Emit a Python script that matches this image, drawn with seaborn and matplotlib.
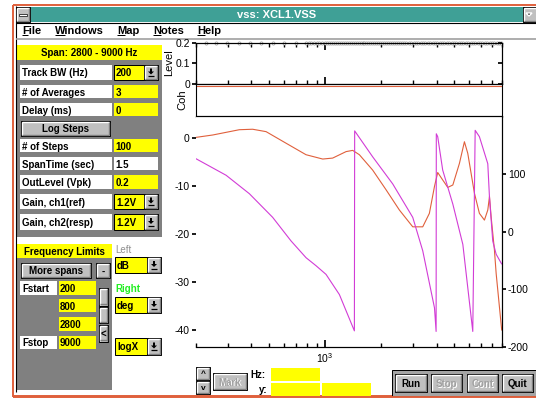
import matplotlib
matplotlib.use("Agg")
import matplotlib.pyplot as plt
from matplotlib.patches import Rectangle, Polygon
from matplotlib.ticker import NullFormatter
import seaborn as sns

# screen size in pixels
W, H = 536, 398

# magnitude (dB, left axis)
mag_freq = [200, 247, 344, 406, 480, 615, 789, 971, 1099, 1299, 1410, 1532, 1808, 2136,
            2520, 2976, 3370, 3660, 3900, 4060, 4320, 4600, 4900, 5320, 5660, 5900, 6410,
            6820, 7260, 7570, 7730, 7890, 8220, 8400, 9000]
mag_db = [0.1, 0.6, 1.7, 1.8, 1.3, -1.1, -3.5, -4.4, -4.2, -2.85, -2.6, -3.5, -6.7, -10.8,
          -15.0, -18.5, -18.5, -15.7, -10.1, -7.2, -8.75, -10.3, -9.8, -5.3, -0.8, -3.2, -11.5,
          -15.7, -17.1, -15.0, -12.2, -16.4, -23.3, -28.2, -40.0]

# phase (deg, right axis)
phase_freq = [200, 292, 390, 521, 655, 789, 894, 1012, 1195, 1440, 1445, 1808, 2320, 2976,
              3370, 3900, 3980, 3990, 4060, 4320, 4900, 5550, 6280, 6470, 6820, 7570, 7730,
              8050, 8400, 9000]
phase_deg = [127, 98, 66, 25, -16, -45, -59, -74, -109, -172, 175, 130, 83, 25,
             -33, -132, -173, 170, 165, 107, 48, -22, -173, 176, 165, 118, 60,
             -16, -39, -56]

# measurement points shown in the Level strip (all at 0.2 Vpk)
level_freq = [228, 258, 297, 344, 393, 451, 521, 603, 697,
              789, 816, 843, 872, 901, 932, 963, 996,
              1021, 1047, 1073, 1100, 1127, 1155, 1184, 1214, 1244, 1275, 1307, 1340, 1373,
              1408, 1443, 1479, 1516, 1554, 1593, 1633, 1673, 1715, 1758, 1802, 1847, 1893,
              1941, 1989, 2039, 2090, 2142, 2196, 2251, 2307, 2365, 2424, 2484, 2547, 2610, 2676,
              2750, 2833, 2917, 3005, 3095, 3188, 3283, 3382, 3483, 3588, 3695, 3806, 3920,
              4038, 4159, 4284, 4412, 4545, 4681, 4822, 4966, 5115, 5269, 5427, 5590, 5757,
              5930, 6108, 6291, 6480, 6674, 6874, 7081, 7293, 7512, 7737, 7970, 8209, 8455,
              8709, 8970]
level_val = [0.2] * len(level_freq)

coh_freq = [200, 9000]
coh_val = [0.99, 0.99]

# panel texts
menu_items = ["File", "Windows", "Map", "Notes", "Help"]
setup_rows = ["Track BW (Hz)", "# of Averages", "Delay (ms)"]
setup_vals = ["200", "3", "0"]
step_rows = ["# of Steps", "SpanTime (sec)", "OutLevel (Vpk)", "Gain, ch1(ref)", "Gain, ch2(resp)"]
step_vals = ["100", "1.5", "0.2", "1.2V", "1.2V"]
span_edges = ["200", "800", "2800", "9000"]

sns.set_theme(style="ticks", rc={"axes.edgecolor": "black", "axes.linewidth": 0.8,
                                 "xtick.color": "black", "ytick.color": "black",
                                 "text.color": "black", "axes.labelcolor": "black"})
plt.rcParams["font.family"] = ["Liberation Sans", "DejaVu Sans"]
plt.rcParams["axes.unicode_minus"] = False
plt.rcParams["mathtext.default"] = "regular"

YEL = "#ffff00"
GRAY = "#808080"
BTN = "#c0c0c0"
ORANGE = "#e0603c"
MAGENTA = "#d23cd6"

fig = plt.figure(figsize=(W / 100, H / 100), dpi=100)
bg = fig.add_axes([0, 0, 1, 1])
bg.set_xlim(0, W)
bg.set_ylim(H, 0)
bg.axis("off")


def box(x0, y0, x1, y1, fc, ec="none", lw=0.72, z=1):
    bg.add_patch(Rectangle((x0, y0), x1 - x0, y1 - y0, facecolor=fc, edgecolor=ec,
                           linewidth=lw, zorder=z))


def hline(x0, x1, y, c, lw=0.72, z=3):
    bg.plot([x0, x1], [y, y], color=c, lw=lw, zorder=z, solid_capstyle="butt")


def vline(x, y0, y1, c, lw=0.72, z=3):
    bg.plot([x, x], [y0, y1], color=c, lw=lw, zorder=z, solid_capstyle="butt")


def txt(x, y, s, size=7, color="black", weight="bold", ha="left", z=6):
    bg.text(x, y, s, fontsize=size, color=color, fontweight=weight, ha=ha,
            va="center_baseline", zorder=z)


def button(x0, y0, x1, y1, s="", enabled=True, size=7):
    box(x0, y0, x1, y1, BTN, "black", 0.72, 2)
    hline(x0 + 1, x1 - 1, y0 + 1.3, "white", 1.0, 3)
    vline(x0 + 1.3, y0 + 1, y1 - 1, "white", 1.0, 3)
    hline(x0 + 1, x1 - 1, y1 - 1.3, GRAY, 1.0, 3)
    vline(x1 - 1.3, y0 + 1, y1 - 1, GRAY, 1.0, 3)
    if s:
        cx, cy = (x0 + x1) / 2, (y0 + y1) / 2
        if enabled:
            txt(cx, cy, s, size=size, ha="center")
        else:
            txt(cx + 0.7, cy + 0.7, s, size=size, color="white", ha="center")
            txt(cx, cy, s, size=size, color="#a0a0a0", ha="center", z=7)


def dropdown(x0, y0, x1, y1, s):
    box(x0, y0, x1 - 14, y1, YEL, "black", 0.72, 2)
    button(x1 - 14, y0, x1, y1)
    cx, cy = x1 - 7, (y0 + y1) / 2
    bg.add_patch(Polygon([(cx - 1, cy - 4), (cx + 1, cy - 4), (cx + 1, cy - 1), (cx + 3, cy - 1),
                          (cx, cy + 2), (cx - 3, cy - 1), (cx - 1, cy - 1)],
                         facecolor="black", edgecolor="none", zorder=5))
    hline(cx - 3, cx + 3, cy + 3.5, "black", 0.9, 5)
    txt(x0 + 2, cy, s)


# window frame, title bar and menu
box(0, 0, W, H, "white", z=0)
box(13, 5, W + 2, 396, "none", ORANGE, 1.4, 1)
vline(15.5, 6, 392, "black", 0.8, 2)
box(16, 6.5, W, 22, "#3fa096", z=1)
hline(16, W, 22.5, "black", 0.8, 2)
button(16, 6.5, 30, 22)
box(19, 13.5, 27, 15.5, "white", "black", 0.5, 4)
button(522.5, 6.5, 538, 22)
bg.add_patch(Polygon([(526, 13), (532, 13), (529, 16)], facecolor="black", zorder=5))
txt(276.5, 14.5, "vss: XCL1.VSS", size=8, color="white", ha="center")

menu_x = [22, 55, 117, 153, 197]
first_w = [5.5, 10, 8, 7.5, 7.5]
for mx, name, uw in zip(menu_x, menu_items, first_w):
    txt(mx, 30.5, name, size=8)
    hline(mx, mx + uw, 35, "black", 0.72, 6)
hline(16, W, 38.5, "#a0a0a0", 1.2, 2)

# setup panel
box(17, 45, 162, 60, YEL, z=1)
txt(89.5, 52.5, "Span: 2800 - 9000 Hz", ha="center")
box(17, 60, 162, 237, GRAY, z=1)

row_y = [(65, 80), (85, 98), (103, 116)]
for (y0, y1), name, val in zip(row_y, setup_rows, setup_vals):
    box(20, y0, 112, y1, "white", z=2)
    txt(22, (y0 + y1) / 2, name)
    if name.startswith("Track"):
        dropdown(114, y0, 158, y1, val)
    else:
        box(114, y0, 158, y1, YEL, z=2)
        txt(115.5, (y0 + y1) / 2, val)

button(21, 121, 110, 136, "Log Steps")

row_y = [(139, 152), (157, 170), (175, 189), (194, 209), (214, 230)]
for (y0, y1), name, val in zip(row_y, step_rows, step_vals):
    box(20, y0, 112, y1, "white", z=2)
    txt(22, (y0 + y1) / 2, name)
    if name.startswith("Gain"):
        dropdown(114, y0, 158, y1, val)
    else:
        box(114, y0, 158, y1, "white" if name.startswith("Span") else YEL, z=2)
        txt(115.5, (y0 + y1) / 2, val)

# frequency limits panel
box(17, 244, 112, 258, YEL, z=1)
txt(64.5, 251, "Frequency Limits", ha="center")
box(17, 258, 112, 390, GRAY, z=1)
txt(115, 249, "Left", color="#909090", weight="normal")
txt(115, 287.5, "Right", color="#22ee22")
dropdown(115, 257, 161, 273, "dB")
dropdown(115, 297, 161, 313, "deg")
dropdown(115, 338, 161, 355, "logX")

button(21, 263, 91, 278, "More spans")
button(96, 263, 110, 278, "-")
edge_y = [(281, 295), (299, 312), (317, 331), (336, 349)]
for (y0, y1), val in zip(edge_y, span_edges):
    box(59, y0, 96, y1, YEL, z=2)
    txt(59.5, (y0 + y1) / 2, val)
box(20, 281, 57, 295, "white", z=2)
txt(22, 288, "Fstart")
box(20, 336, 57, 349, "white", z=2)
txt(22, 342.5, "Fstop")
button(99, 288, 108, 305.5)
button(99, 306.5, 108, 323)
button(99, 325, 108, 341.5, "<")

# marker / readout controls
button(196, 367, 210, 380, "^", size=6)
button(196, 381, 210, 394, "v", size=6)
button(213, 373, 247, 390, "Mark", enabled=False)
txt(250, 374.5, "Hz:")
txt(268, 389, "y:", ha="right")
box(271, 368, 320, 381, YEL, z=2)
box(271, 383, 320, 396, YEL, z=2)
box(322, 383, 371, 396, YEL, z=2)

box(392, 370, W + 2, 396, "#a4a4a4", "black", 0.72, 1)
for (x0, x1), name, on in zip([(395, 427), (431, 462), (467, 498), (502, 533)],
                              ["Run", "Stop", "Cont", "Quit"], [True, False, False, True]):
    button(x0, 374, x1, 392, name, enabled=on)
hline(13, W, 396.5, ORANGE, 1.4, 8)


# plot axes placed in pixel coordinates
def fax(x0, y0, x1, y1):
    return fig.add_axes([x0 / W, 1 - y1 / H, (x1 - x0) / W, (y1 - y0) / H])


lv = fax(195.7, 42.5, 501.7, 83.5)
ch = fax(195.7, 83.5, 501.7, 116.5)
ax = fax(195.7, 116.5, 501.7, 347)

# Level strip
sns.scatterplot(x=level_freq, y=level_val, ax=lv, marker="o", s=5, color="white",
                edgecolor="#8c8c8c", linewidth=0.5, clip_on=False, zorder=3)
lv.set_xscale("log")
lv.set_xlim(200, 9000)
lv.set_ylim(0, 0.2)
lv.set_yticks([0, 0.1, 0.2], ["0", "0.1", "0.2"])
lv.xaxis.set_minor_formatter(NullFormatter())
lv.tick_params(axis="x", which="both", direction="in", top=True, bottom=True,
               labelbottom=False)
lv.tick_params(axis="x", which="major", length=5)
lv.tick_params(axis="x", which="minor", length=3)
lv.tick_params(axis="y", direction="out", length=3, labelsize=7.5, pad=1)
lv.set_ylabel("Level", fontsize=8, labelpad=1)
lv.set_xlabel("")
lvr = lv.twinx()
lvr.set_ylim(0, 0.2)
lvr.set_yticks([0, 0.1, 0.2])
lvr.tick_params(axis="y", direction="in", length=3, labelright=False)

# coherence strip
sns.lineplot(x=coh_freq, y=coh_val, ax=ch, color=ORANGE, lw=0.8)
ch.set_xscale("log")
ch.set_xlim(200, 9000)
ch.set_ylim(0, 1.08)
ch.set_xticks([])
ch.set_xticks([], minor=True)
ch.set_yticks([])
ch.set_ylabel("Coh", fontsize=8, labelpad=6)
ch.set_xlabel("")

# magnitude / phase plot
sns.lineplot(x=mag_freq, y=mag_db, ax=ax, color=ORANGE, lw=0.8, sort=False, estimator=None)
ax.set_xscale("log")
ax.set_xlim(200, 9000)
ax.set_ylim(-43.5, 4.45)
ax.set_yticks([-40, -30, -20, -10, 0])
ax.xaxis.set_minor_formatter(NullFormatter())
ax.spines["left"].set_visible(False)
ax.tick_params(axis="x", which="both", direction="in", labelsize=7.5, pad=3)
ax.tick_params(axis="x", which="major", length=5)
ax.tick_params(axis="x", which="minor", length=3)
ax.tick_params(axis="y", direction="out", length=3, labelsize=7.5, pad=1.5)
ax.set_xlabel("")
ax.set_ylabel("")

ax2 = ax.twinx()
sns.lineplot(x=phase_freq, y=phase_deg, ax=ax2, color=MAGENTA, lw=0.8, sort=False,
             estimator=None)
ax2.set_xlim(200, 9000)
ax2.set_ylim(-200, 200)
ax2.set_yticks([-200, -100, 0, 100])
ax2.spines["left"].set_visible(False)
ax2.tick_params(axis="y", direction="out", length=3, labelsize=7.5, pad=1.5)
ax2.set_ylabel("")

fig.savefig("out.png", dpi=100)
